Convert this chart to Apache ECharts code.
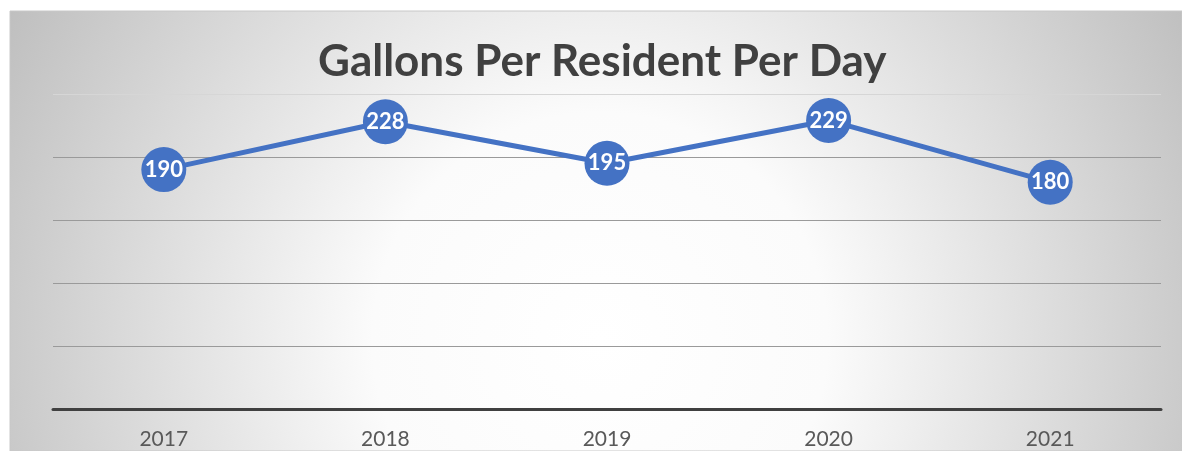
<!DOCTYPE html>
<html>
<head>
<meta charset="utf-8">
<script src="https://cdn.jsdelivr.net/npm/echarts@6/dist/echarts.min.js"></script>
<style>html,body{margin:0;padding:0;background:#fff}#c{width:1182px;height:451px}</style>
</head>
<body>
<div id="c"></div>
<script>
const categories = ['2017', '2018', '2019', '2020', '2021'];
const gallons = [190, 228, 195, 229, 180];
const chartTitle = 'Gallons Per Resident Per Day';

const chart = echarts.init(document.getElementById('c'), null, {renderer: 'canvas'});
chart.setOption({
  animation: false,
  backgroundColor: '#ffffff',
  graphic: [{
    type: 'rect', z: -100, silent: true,
    shape: {x: 10, y: 11, width: 1172, height: 440},
    style: {
      fill: {type: 'radial', global: true, x: 600, y: 340, r: 690,
        colorStops: [{offset: 0, color: '#ffffff'}, {offset: 0.33, color: '#fbfbfb'}, {offset: 1, color: '#bdbdbd'}]},
      stroke: '#c8c8c8', lineWidth: 1
    }
  }],
  title: {
    text: chartTitle, left: 313, top: 35,
    textStyle: {fontFamily: 'Lato', fontWeight: 'bold', fontSize: 44, color: '#404040'}
  },
  grid: {left: 53, right: 21, top: 94, bottom: 42},
  xAxis: {
    type: 'category', data: categories, boundaryGap: true,
    axisLine: {lineStyle: {color: '#404040', width: 3}},
    axisTick: {show: false},
    axisLabel: {fontFamily: 'Lato', fontSize: 21, color: '#595959', margin: 20}
  },
  yAxis: {
    type: 'value', min: 0, max: 250, interval: 50,
    axisLabel: {show: false}, axisLine: {show: false}, axisTick: {show: false},
    splitLine: {lineStyle: {color: ['#9a9a9a', '#9a9a9a', '#9a9a9a', '#9a9a9a', '#9a9a9a', '#d6d6d6'], width: 1}}
  },
  series: [{
    type: 'line', data: gallons,
    lineStyle: {color: '#4472C4', width: 5},
    itemStyle: {color: '#4472C4'},
    symbol: 'circle', symbolSize: 45,
    label: {show: true, position: 'inside', color: '#ffffff', fontFamily: 'Lato', fontWeight: 'bold', fontSize: 22}
  }]
});
</script>
</body>
</html>
